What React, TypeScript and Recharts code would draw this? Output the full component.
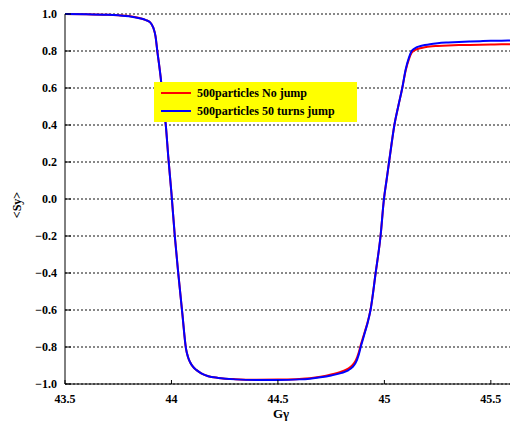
import React from 'react';
import { CartesianGrid, Legend, Line, LineChart, XAxis, YAxis } from 'recharts';

const gamma = [
  43.5, 43.6, 43.7, 43.75, 43.8, 43.85, 43.88, 43.9, 43.915, 43.925,
  43.933, 43.949, 43.962, 43.974, 43.985, 44.0, 44.016, 44.032, 44.051, 44.068,
  44.078, 44.087, 44.1, 44.118, 44.14, 44.173, 44.22, 44.3, 44.4, 44.5,
  44.6, 44.65, 44.7, 44.75, 44.8, 44.83, 44.85, 44.865, 44.88, 44.89,
  44.9, 44.91, 44.92, 44.935, 44.959, 44.982, 44.998, 45.01, 45.022, 45.034,
  45.047, 45.065, 45.084, 45.1, 45.115, 45.128, 45.145, 45.167, 45.19, 45.214,
  45.25, 45.3, 45.35, 45.4, 45.45, 45.5, 45.55, 45.59,
];

const jump50 = [
  1.0, 0.999, 0.996, 0.993, 0.988, 0.977, 0.967, 0.955, 0.925, 0.88,
  0.805, 0.661, 0.518, 0.391, 0.229, 0.03, -0.204, -0.402, -0.618, -0.807,
  -0.855, -0.881, -0.905, -0.925, -0.942, -0.958, -0.967, -0.975, -0.978, -0.978,
  -0.975, -0.971, -0.964, -0.954, -0.94, -0.926, -0.909, -0.886, -0.84, -0.795,
  -0.755, -0.715, -0.675, -0.6, -0.4, -0.2, 0.0, 0.1, 0.2, 0.3,
  0.4, 0.5, 0.6, 0.7, 0.763, 0.8, 0.816, 0.826, 0.832, 0.837,
  0.842, 0.846, 0.849, 0.851, 0.853, 0.855, 0.856, 0.857,
];

const noJump = [
  1.0, 0.999, 0.996, 0.993, 0.989, 0.978, 0.967, 0.955, 0.925, 0.88,
  0.805, 0.661, 0.518, 0.391, 0.229, 0.03, -0.204, -0.402, -0.618, -0.807,
  -0.855, -0.881, -0.905, -0.925, -0.942, -0.958, -0.967, -0.974, -0.977, -0.976,
  -0.973, -0.969, -0.961, -0.949, -0.932, -0.917, -0.898, -0.874, -0.828, -0.785,
  -0.748, -0.71, -0.672, -0.598, -0.4, -0.2, 0.0, 0.1, 0.2, 0.3,
  0.4, 0.5, 0.6, 0.695, 0.755, 0.79, 0.806, 0.815, 0.82, 0.824,
  0.827, 0.83, 0.832, 0.833, 0.834, 0.835, 0.836, 0.836,
];

const seriesNames = ['500particles No jump', '500particles 50 turns jump'];

const xTicks = [43.5, 44, 44.5, 45, 45.5];
const xMinorTicks = [
  43.6, 43.7, 43.8, 43.9, 44.1, 44.2, 44.3, 44.4, 44.6, 44.7, 44.8, 44.9,
  45.1, 45.2, 45.3, 45.4, 45.5,
];
const yTicks = [-1, -0.8, -0.6, -0.4, -0.2, 0, 0.2, 0.4, 0.6, 0.8, 1];
const yMinorTicks = [-0.9, -0.7, -0.5, -0.3, -0.1, 0.1, 0.3, 0.5, 0.7, 0.9];

const data = gamma.map((g, i) => ({ g, noJump: noJump[i], jump50: jump50[i] }));

const font = '"Liberation Serif", "Times New Roman", serif';
const tickStyle = { fontFamily: font, fontWeight: 'bold', fontSize: 12, fill: '#000' };

const fmtY = (v: number) => (v < 0 ? '\u2212' + Math.abs(v).toFixed(1) : v.toFixed(1));

const renderLegend = (props: any) => {
  const items = [...(props.payload || [])].sort(
    (a: any, b: any) => seriesNames.indexOf(a.value) - seriesNames.indexOf(b.value)
  );
  return (
    <div style={{ background: '#ffff00', width: 203, height: 40, boxSizing: 'border-box', paddingTop: 2 }}>
      {items.map((p: any) => (
        <div key={p.value} style={{ display: 'flex', alignItems: 'center', height: 18 }}>
          <svg width={30} height={4} style={{ marginLeft: 7, marginRight: 6 }}>
            <line x1={0} y1={2} x2={30} y2={2} stroke={p.color} strokeWidth={2} />
          </svg>
          <span style={{ fontFamily: font, fontWeight: 'bold', fontSize: 12, color: '#000' }}>{p.value}</span>
        </div>
      ))}
    </div>
  );
};

export default function App() {
  return (
    <div style={{ position: 'absolute', left: 0, top: 0 }}>
      <LineChart width={510} height={424} data={data} margin={{ top: 13, right: 0, bottom: 38, left: 63 }}>
        <CartesianGrid vertical={false} stroke='#111' strokeDasharray='2 2' />
        <XAxis
          dataKey='g'
          type='number'
          domain={[43.5, 45.59]}
          allowDataOverflow
          ticks={xTicks}
          height={1}
          tickSize={-4}
          tickMargin={14}
          tick={tickStyle}
          stroke='#000'
          label={() => (
            <text x={281} y={418} textAnchor='middle' fontFamily={font} fontWeight='bold' fontSize={13} fill='#000'>
              Gγ
            </text>
          )}
        />
        <XAxis
          xAxisId='minor'
          dataKey='g'
          type='number'
          domain={[43.5, 45.59]}
          allowDataOverflow
          ticks={xMinorTicks}
          height={1}
          tickSize={-3}
          tick={false}
          axisLine={false}
          stroke='#000'
        />
        <XAxis
          xAxisId='top'
          orientation='top'
          dataKey='g'
          type='number'
          domain={[43.5, 45.59]}
          allowDataOverflow
          ticks={[...xTicks, ...xMinorTicks]}
          height={1}
          tickSize={-3}
          tick={false}
          axisLine={false}
          stroke='#000'
        />
        <YAxis
          type='number'
          domain={[-1, 1]}
          ticks={yTicks}
          width={1}
          tickSize={-6}
          tickMargin={14}
          tick={tickStyle}
          tickFormatter={fmtY}
          stroke='#000'
          label={() => (
            <text
              x={21}
              y={205}
              transform='rotate(-90 21 205)'
              textAnchor='middle'
              fontFamily={font}
              fontWeight='bold'
              fontSize={12}
              fill='#000'
            >
              {'<Sy>'}
            </text>
          )}
        />
        <YAxis
          yAxisId='minor'
          type='number'
          domain={[-1, 1]}
          ticks={yMinorTicks}
          width={1}
          tickSize={-4}
          tick={false}
          axisLine={false}
          stroke='#000'
        />
        <Legend
          layout='horizontal'
          verticalAlign='middle'
          align='center'
          wrapperStyle={{ left: 154, top: 82, width: 203, height: 40 }}
          content={renderLegend}
        />
        <Line
          name={seriesNames[0]}
          dataKey='noJump'
          type='monotone'
          stroke='#ff0000'
          strokeWidth={2}
          dot={false}
          isAnimationActive={false}
        />
        <Line
          name={seriesNames[1]}
          dataKey='jump50'
          type='monotone'
          stroke='#0000ff'
          strokeWidth={2}
          dot={false}
          isAnimationActive={false}
        />
      </LineChart>
    </div>
  );
}
